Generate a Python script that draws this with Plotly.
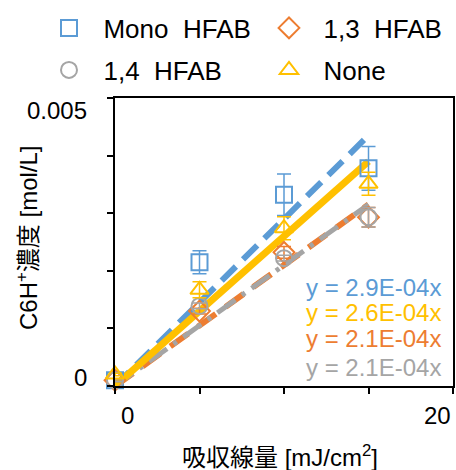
import plotly.graph_objects as go

# ---- data ----
dose = [0, 5, 10, 15]
series_names = ["Mono  HFAB", "1,3  HFAB", "1,4  HFAB", "None"]
mono = [0.0001, 0.00215, 0.00332, 0.00378]
mono_err = [0.00002, 0.0002, 0.00036, 0.00038]
h13 = [0.0001, 0.00130, 0.00232, 0.00293]
h13_err = [0.00002, 0.00005, 0.0001, 0.00017]
h14 = [0.0001, 0.00139, 0.00222, 0.00293]
h14_err = [0.00002, 0.00005, 0.00005, 0.00017]
none = [0.0002, 0.00167, 0.00274, 0.00351]
none_err = [0.00002, 0.00014, 0.0002, 0.0002]
slopes = [2.9e-4, 2.1e-4, 2.1e-4, 2.6e-4]
eq_labels = ["y = 2.9E-04x", "y = 2.1E-04x", "y = 2.1E-04x", "y = 2.6E-04x"]
x_tick_vals = [0, 20]
x_tick_labels = ["0", "20"]
y_tick_vals = [0, 0.005]
y_tick_labels = ["0", "0.005"]

W, H = 456, 470
ML, MR, MT, MB = 115, 3, 98, 84
PW, PH = W - ML - MR, H - MT - MB


def px_x(p):
    return (p - ML) / PW


def px_y(p):
    return (H - MB - p) / PH


FONT = "Liberation Sans, Arial, Noto Sans CJK JP, sans-serif"
colors = ["#5B9BD5", "#ED7D31", "#A5A5A5", "#FFC000"]
symbols = ["square-open", "diamond-open", "circle-open", "triangle-up-open"]
dashes = ["20px,10px", "22px,12px", "22px,8px,4px,8px", "solid"]
widths = [6, 6, 5, 7]
vals = [mono, h13, h14, none]
errs = [mono_err, h13_err, h14_err, none_err]
legends = ["legend", "legend2", "legend3", "legend4"]
leg_pos = [(49, 28), (269, 28), (49, 70), (269, 70)]

fig = go.Figure()

# trend lines
xfit = [min(dose), max(dose)]
for i in range(4):
    fig.add_trace(go.Scatter(
        x=xfit, y=[slopes[i] * v for v in xfit], mode="lines",
        line=dict(color=colors[i], width=widths[i], dash=dashes[i]),
        showlegend=False, hoverinfo="skip", cliponaxis=False))

# markers
for i in [0, 1, 2, 3]:
    fig.add_trace(go.Scatter(
        x=dose, y=vals[i], mode="markers", name="  " + series_names[i],
        legend=legends[i],
        marker=dict(symbol=symbols[i], size=16, color=colors[i],
                    line=dict(width=2, color=colors[i])),
        error_y=dict(type="data", array=errs[i], color=colors[i],
                     thickness=1.5, width=7),
        cliponaxis=False))

annotations = []
ax_font = dict(family=FONT, size=24, color="#000000")
# x tick labels
annotations.append(dict(x=x_tick_vals[0], y=px_y(415), xref="x", yref="paper", text=x_tick_labels[0],
                        showarrow=False, font=ax_font, xanchor="center", yanchor="middle",
                        xshift=12))
annotations.append(dict(x=x_tick_vals[1], y=px_y(415), xref="x", yref="paper", text=x_tick_labels[1],
                        showarrow=False, font=ax_font, xanchor="center", yanchor="middle",
                        xshift=-16))
# y tick labels
annotations.append(dict(x=px_x(89), y=y_tick_vals[0], xref="paper", yref="y", text=y_tick_labels[0],
                        showarrow=False, font=ax_font, xanchor="right", yanchor="middle",
                        yshift=9))
annotations.append(dict(x=px_x(89), y=y_tick_vals[1], xref="paper", yref="y", text=y_tick_labels[1],
                        showarrow=False, font=ax_font, xanchor="right", yanchor="middle",
                        yshift=-12))
# axis titles
annotations.append(dict(x=px_x(280), y=px_y(456), xref="paper", yref="paper",
                        text="吸収線量 [mJ/cm<sup>2</sup>]", showarrow=False,
                        font=ax_font, xanchor="center", yanchor="middle"))
annotations.append(dict(x=px_x(27), y=px_y(238), xref="paper", yref="paper",
                        text="C6H<sup>+</sup>濃度 [mol/L]", showarrow=False, textangle=-90,
                        font=ax_font, xanchor="center", yanchor="middle"))
# equations
eq_y = [287, 338, 367, 312]
for i in range(4):
    annotations.append(dict(x=px_x(443), y=px_y(eq_y[i]), xref="paper", yref="paper",
                            text=eq_labels[i], showarrow=False,
                            font=dict(family=FONT, size=24, color=colors[i]),
                            xanchor="right", yanchor="middle"))

leg_layout = {}
for i in range(4):
    leg_layout[legends[i]] = dict(
        orientation="h", xref="container", yref="container",
        xanchor="left", yanchor="middle",
        x=leg_pos[i][0] / W, y=1 - leg_pos[i][1] / H,
        font=dict(family=FONT, size=26, color="#000000"),
        bgcolor="rgba(0,0,0,0)", borderwidth=0)

fig.update_layout(
    width=W, height=H,
    margin=dict(l=ML, r=MR, t=MT, b=MB, autoexpand=False),
    paper_bgcolor="white", plot_bgcolor="white",
    font=dict(family=FONT, size=24, color="#000000"),
    showlegend=True,
    xaxis=dict(range=[0, 20], tickvals=[0, 5, 10, 15, 20], showticklabels=False,
               ticks="outside", ticklen=6, tickwidth=2, tickcolor="black",
               showline=True, linecolor="black", linewidth=2, mirror=True,
               showgrid=False, zeroline=False, fixedrange=True),
    yaxis=dict(range=[0, 0.005], tickvals=[0, 0.001, 0.002, 0.003, 0.004, 0.005],
               showticklabels=False,
               ticks="outside", ticklen=6, tickwidth=2, tickcolor="black",
               showline=True, linecolor="black", linewidth=2, mirror=True,
               showgrid=False, zeroline=False, fixedrange=True),
    annotations=annotations,
    **leg_layout,
)

fig.write_html("out.html", config={"displayModeBar": False},
               post_script="document.body.style.margin='0px';")
